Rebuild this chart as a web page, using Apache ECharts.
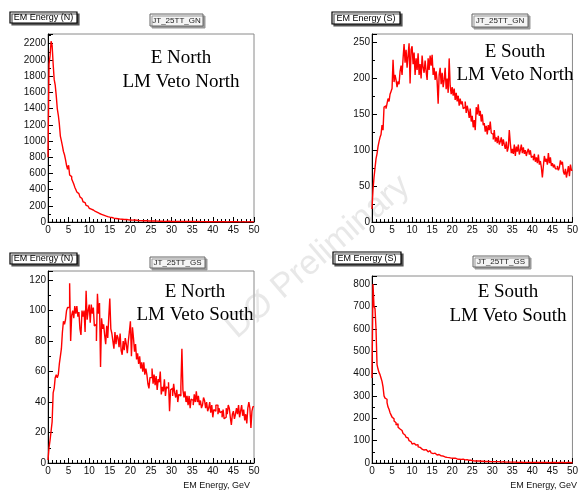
<!DOCTYPE html>
<html>
<head>
<meta charset="utf-8">
<script src="https://cdn.jsdelivr.net/npm/echarts@6/dist/echarts.min.js"></script>
<style>
html,body{margin:0;padding:0;background:#fff;}
#c{width:581px;height:491px;}
</style>
</head>
<body>
<div id="c"></div>
<script>
// ---- data (bin width 0.25 GeV, 0..50 GeV) ----
const binWidth = 0.25;
const xTicks = [0,5,10,15,20,25,30,35,40,45,50];
const xAxisTitle = 'EM Energy, GeV';
const panelTitles = ['EM Energy (N)', 'EM Energy (S)', 'EM Energy (N)', 'EM Energy (S)'];
const histNames = ['JT_25TT_GN', 'JT_25TT_GN', 'JT_25TT_GS', 'JT_25TT_GS'];
const labelLine1 = ['E North', 'E South', 'E North', 'E South'];
const labelLine2 = ['LM Veto North', 'LM Veto North', 'LM Veto South', 'LM Veto South'];
const watermark = 'DØ Preliminary';

const eNorthVetoNorth = [
 800,1950,2050,2230, 2180,1950,1760,1690, 1560,1400,1320,1210, 1060,1000,940,870,
 830,770,700,650, 700,580,560,530, 500,470,430,400, 370,350,330,310,
 290,270,250,240, 225,205,195,180, 170,160,150,148, 140,130,125,118,
 112,105,100,95, 100,85,80,75, 70,66,64,60, 56,55,52,48,
 46,44,45,40, 38,36,37,34, 33,31,30,30, 28,27,30,25,
 24,23,22,24, 20,21,19,18, 18,17,19,16, 15,16,14,15, 14,13,15,12,
 12,13,11,12,10,11,12,10,9,11,10,9,10,8,9,10,8,9,8,7,
 8,7,9,7,8,6,7,8,6,7,6,7,5,6,7,6,5,6,5,6,
 5,6,5,4,5,6,4,5,4,5,4,5,4,3,4,5,4,3,4,4,
 3,4,3,4,3,3,4,3,2,3,4,3,3,2,3,3,2,3,2,3,
 2,3,2,3,2,2,3,2,2,3,2,2,1,2,2,3,2,1,2,2
];
const eSouthVetoNorth = [
 18,45,62,75, 88,95,105,112, 118,122,135,128, 160,162,158,165, 172,168,178,182,
 186,226,195,205, 198,188,196,192, 210,218,205,228, 248,222,240,215, 232,249,193,240,
 245,220,236,205, 228,212,235,205, 220,200,232,215, 208,225,210,198, 228,212,232,218,
 233,205,215,198, 210,196,165,205, 215,192,208,188, 198,215,185,200, 180,228,190,178,
 188,176,186,170, 180,168,176,162, 172,164,168,158, 160,168,152,162, 155,145,158,140,
 148,132,142,128, 160,150,164,148, 155,140,150,135, 138,126,134,122, 135,128,140,124,
 122,115,128,112, 118,110,120,108, 112,118,106,115, 108,102,112,98, 104,128,110,96,
 102,95,108,92, 105,98,108,94, 100,108,96,104, 95,100,92,98, 102,94,100,90,
 92,86,95,84, 90,82,94,80, 85,76,62,78, 92,84,88,80, 96,82,90,78,
 82,76,80,74, 74,78,72,76, 86,80,84,70, 66,74,62,70, 78,64,80,72
];
const eNorthVetoSouth = [
 2,10,15,21, 27,46,49,56, 58,56,58,65, 70,75,86,93, 91,94,100,102,
 102,118,80,97, 100,95,103,98, 103,96,99,88, 84,100,96,100, 86,113,94,100,
 104,92,104,98, 102,90,91,80, 111,98,105,63, 95,88,91,84, 78,90,82,96,
 108,88,85,80, 75,86,78,84, 82,76,85,74, 71,80,74,82, 78,72,80,86,
 93,70,89,82, 73,78,68,72, 65,70,62,66, 60,66,58,62, 58,52,49,56,
 56,62,52,58, 51,57,48,55, 53,60,45,50, 47,55,44,50, 49,53,34,48,
 49,44,52,46, 43,48,40,45, 44,50,75,48, 43,47,40,44, 38,44,36,42,
 41,38,45,40, 47,40,44,38, 41,36,38,43, 41,36,40,34, 36,40,33,38,
 30,35,34,38, 38,32,36,33, 34,30,35,29, 30,36,32,38, 36,30,25,32,
 34,29,32,36, 32,38,30,34, 38,31,35,28, 32,26,36,40, 36,23,34,37
];
const eSouthVetoSouth = [
 380,800,700,690, 600,440,420,405, 395,380,365,340, 300,290,285,270, 250,240,225,215,
 205,198,188,180, 170,175,160,152, 150,145,138,132, 125,120,115,112, 105,100,95,90,
 85,88,82,80, 78,82,72,70, 68,62,60,58, 56,60,52,50, 48,55,50,45,
 42,40,44,38, 36,35,38,33, 32,30,31,28, 27,28,25,26, 24,25,22,23,
 21,20,22,19, 18,19,17,18, 16,15,17,14, 14,13,15,12, 12,11,12,10,
 10,11,9,10,9,8,9,10,8,7,8,9,7,8,7,6,7,8,6,7,
 6,7,6,5,6,5,6,5,4,5,6,5,4,5,4,5,4,3,4,5,
 4,3,4,4,3,4,3,3,4,3,2,3,3,4,3,2,3,3,2,3,
 3,2,3,2,2,3,2,2,3,2,2,1,2,2,3,2,1,2,2,2,
 2,1,2,2,1,2,2,1,2,1,2,2,1,1,2,1,2,1,1,2
];
const seriesValues = [eNorthVetoNorth, eSouthVetoNorth, eNorthVetoSouth, eSouthVetoSouth];
const yMax = [2320, 262, 126, 836];
const yStep = [200, 50, 20, 100];

// ---- layout ----
const grids = [
  {left:48, top:34, width:206, height:188},
  {left:372, top:34, width:205, height:188},
  {left:48, top:271, width:206, height:192},
  {left:372, top:276, width:205, height:187}
];
const labelCenters = [[181,58,82],[515,52,75],[195,292,315],[508,292,316]];
const titleBoxes = [[10,12,67,11],[332,12,68,12],[10,253,67,11],[333,252,68,12]];
const nameBoxes = [[150,14,53,12],[472,14,56,13],[150,257,55,11],[473,256,56,11]];

function hist(vals){
  const d = vals.map((v,i)=>[i*binWidth, v]);
  d.push([vals.length*binWidth, vals[vals.length-1]]);
  return d;
}

const font = 'Liberation Sans, Arial, sans-serif';
const option = {
  animation:false,
  backgroundColor:'#fff',
  grid: grids.map(g=>Object.assign({show:true, borderColor:'#8a8a8a', borderWidth:1, backgroundColor:'transparent'}, g)),
  xAxis: grids.map((g,i)=>({
    type:'value', gridIndex:i, min:xTicks[0], max:xTicks[xTicks.length-1], interval:5,
    axisLine:{lineStyle:{color:'#000', width:1}},
    axisTick:{inside:true, length:5, lineStyle:{color:'#000'}},
    minorTick:{show:true, splitNumber:5, length:3, lineStyle:{color:'#000'}},
    splitLine:{show:false},
    axisLabel:{color:'#111', fontSize:10, fontFamily:font, margin:3}
  })),
  yAxis: grids.map((g,i)=>({
    type:'value', gridIndex:i, min:0, max:yMax[i], interval:yStep[i],
    axisLine:{show:true, lineStyle:{color:'#000', width:1}},
    axisTick:{show:true, inside:true, length:5, lineStyle:{color:'#000'}},
    minorTick:{show:true, splitNumber:2, length:3, lineStyle:{color:'#000'}},
    splitLine:{show:false},
    axisLabel:{color:'#111', fontSize:10, fontFamily:font, margin:2,
      formatter:v=> (v % yStep[i] === 0) ? String(v) : ''}
  })),
  series: seriesValues.map((vals,i)=>({
    type:'line', xAxisIndex:i, yAxisIndex:i, step:'end', symbol:'none',
    data:hist(vals), clip:true,
    lineStyle:{color:'#ff0000', width:1.4}
  })),
  graphic: []
};

const gr = option.graphic;
// watermark
gr.push({type:'text', x:318, y:257, rotation:0.71, z:0,
  style:{text:watermark, fill:'rgba(190,190,190,0.35)', font:'34px '+font, textAlign:'center', textVerticalAlign:'middle'}});
for (let i=0;i<4;i++){
  const tb = titleBoxes[i];
  gr.push({type:'rect', shape:{x:tb[0], y:tb[1], width:tb[2], height:tb[3]},
    style:{fill:'#fff', stroke:'#000', lineWidth:1.2, shadowColor:'#555', shadowOffsetX:2, shadowOffsetY:2, shadowBlur:0}});
  gr.push({type:'text', x:tb[0]+tb[2]/2, y:tb[1]+tb[3]/2+0.5,
    style:{text:panelTitles[i], fill:'#000', font:'9px '+font, textAlign:'center', textVerticalAlign:'middle'}});
  const nb = nameBoxes[i];
  gr.push({type:'rect', shape:{x:nb[0], y:nb[1], width:nb[2], height:nb[3]},
    style:{fill:'#f4f4f4', stroke:'#666', lineWidth:1, shadowColor:'#999', shadowOffsetX:2, shadowOffsetY:2, shadowBlur:0}});
  gr.push({type:'text', x:nb[0]+nb[2]/2, y:nb[1]+nb[3]/2+0.5,
    style:{text:histNames[i], fill:'#222', font:'8px '+font, textAlign:'center', textVerticalAlign:'middle'}});
  const lc = labelCenters[i];
  gr.push({type:'text', x:lc[0], y:lc[1], z:10,
    style:{text:labelLine1[i], fill:'#000', font:'19px "Liberation Serif", "Times New Roman", serif', textAlign:'center', textVerticalAlign:'middle'}});
  gr.push({type:'text', x:lc[0], y:lc[2], z:10,
    style:{text:labelLine2[i], fill:'#000', font:'19px "Liberation Serif", "Times New Roman", serif', textAlign:'center', textVerticalAlign:'middle'}});
}
// x axis titles (bottom row)
[[250,486],[577,486]].forEach(p=>{
  gr.push({type:'text', x:p[0], y:p[1],
    style:{text:xAxisTitle, fill:'#111', font:'9px '+font, textAlign:'right', textVerticalAlign:'middle'}});
});

const chart = echarts.init(document.getElementById('c'), null, {renderer:'canvas'});
chart.setOption(option);
</script>
</body>
</html>
